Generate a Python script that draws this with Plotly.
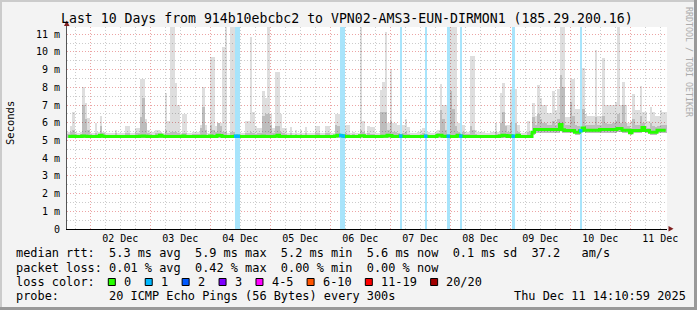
import plotly.graph_objects as go
import pandas as pd

# ---------------- data ----------------
START = "2025-12-01 14:40"
END = "2025-12-11 14:40"

# hourly median rtt (ms), 240 hours
median_rtt = [
    5.23, 5.23, 5.24, 5.23, 5.23, 5.23, 5.25, 5.24, 5.23, 5.23, 5.23, 5.23, 5.23, 5.30, 5.24, 5.23, 5.23, 5.23, 5.23, 5.23,
    5.23, 5.23, 5.23, 5.23, 5.23, 5.23, 5.23, 5.23, 5.23, 5.24, 5.25, 5.24, 5.23, 5.23, 5.23, 5.23, 5.24, 5.30, 5.24, 5.23,
    5.23, 5.23, 5.23, 5.23, 5.23, 5.23, 5.25, 5.23, 5.23, 5.23, 5.23, 5.23, 5.23, 5.23, 5.24, 5.23, 5.23, 5.25, 5.23, 5.23,
    5.30, 5.28, 5.23, 5.23, 5.23, 5.23, 5.23, 5.24, 5.24, 5.23, 5.23, 5.23, 5.23, 5.23, 5.23, 5.23, 5.23, 5.23, 5.24, 5.23,
    5.23, 5.23, 5.23, 5.24, 5.30, 5.23, 5.23, 5.23, 5.23, 5.23, 5.23, 5.23, 5.23, 5.23, 5.23, 5.23, 5.23, 5.23, 5.23, 5.23,
    5.23, 5.23, 5.23, 5.23, 5.23, 5.23, 5.23, 5.25, 5.30, 5.28, 5.25, 5.23, 5.23, 5.23, 5.23, 5.23, 5.23, 5.27, 5.27, 5.23,
    5.23, 5.23, 5.23, 5.23, 5.23, 5.23, 5.24, 5.24, 5.30, 5.28, 5.23, 5.23, 5.23, 5.25, 5.23, 5.23, 5.23, 5.23, 5.23, 5.23,
    5.23, 5.23, 5.23, 5.24, 5.23, 5.23, 5.23, 5.23, 5.30, 5.30, 5.24, 5.23, 5.24, 5.23, 5.23, 5.23, 5.30, 5.25, 5.23, 5.23,
    5.23, 5.23, 5.23, 5.23, 5.23, 5.23, 5.23, 5.23, 5.23, 5.23, 5.23, 5.23, 5.23, 5.25, 5.30, 5.28, 5.23, 5.27, 5.24, 5.23,
    5.30, 5.22, 5.22, 5.22, 5.22, 5.22, 5.46, 5.62, 5.62, 5.62, 5.62, 5.62, 5.62, 5.62, 5.62, 5.62, 5.62, 5.90, 5.60, 5.56,
    5.56, 5.56, 5.56, 5.46, 5.46, 5.55, 5.70, 5.58, 5.58, 5.58, 5.58, 5.58, 5.58, 5.62, 5.62, 5.62, 5.62, 5.62, 5.62, 5.62,
    5.68, 5.68, 5.58, 5.58, 5.58, 5.43, 5.56, 5.56, 5.56, 5.56, 5.74, 5.56, 5.56, 5.47, 5.47, 5.47, 5.58, 5.58, 5.58, 5.58,
]

# hourly slowest ping (top of the smoke, ms)
smoke_max = [
    5.50, 5.80, 6.60, 5.50, 5.40, 5.50, 8.00, 7.10, 6.25, 5.45, 5.45, 6.00, 5.50, 6.40, 5.50, 5.45, 5.40, 5.40, 5.45, 5.60,
    5.45, 5.45, 5.45, 5.80, 5.80, 5.45, 5.45, 5.70, 5.70, 8.50, 8.50, 6.20, 5.60, 5.50, 5.50, 5.60, 5.60, 5.45, 5.45, 7.70,
    6.10, 11.4, 11.4, 8.25, 7.00, 5.45, 6.50, 6.50, 5.45, 5.45, 5.50, 5.50, 5.50, 5.85, 8.00, 5.85, 5.45, 9.70, 9.70, 5.80,
    6.00, 6.00, 10.3, 11.4, 5.45, 11.4, 11.4, 5.45, 5.45, 5.45, 5.45, 6.10, 6.10, 10.85, 6.60, 5.80, 5.70, 5.70, 7.80, 7.40,
    11.4, 6.50, 5.70, 8.85, 8.85, 6.50, 5.70, 5.70, 5.45, 5.75, 5.45, 5.60, 5.45, 5.60, 5.45, 5.75, 5.45, 5.45, 5.45, 5.80,
    5.80, 5.45, 5.45, 5.80, 5.80, 5.45, 5.45, 6.50, 6.50, 6.00, 5.90, 5.90, 5.90, 5.45, 5.50, 5.45, 5.45, 11.4, 6.10, 5.45,
    5.80, 5.75, 5.75, 5.45, 5.45, 7.85, 8.30, 11.1, 6.00, 9.00, 6.00, 6.00, 5.90, 5.90, 5.85, 6.20, 5.75, 5.45, 5.45, 5.45,
    5.50, 5.60, 5.70, 5.70, 5.50, 5.45, 5.45, 5.50, 5.60, 8.20, 7.00, 7.00, 5.60, 11.4, 11.4, 11.4, 6.00, 5.60, 5.90, 5.50,
    5.50, 9.80, 9.80, 5.60, 5.50, 5.50, 5.50, 5.45, 5.45, 5.50, 5.50, 6.00, 5.50, 7.70, 8.25, 5.90, 5.85, 7.90, 5.60, 7.90,
    5.90, 5.40, 5.40, 5.50, 6.10, 5.50, 7.10, 6.40, 8.15, 7.40, 7.00, 7.00, 6.55, 6.55, 7.80, 6.75, 7.90, 11.4, 11.4, 6.30,
    6.30, 8.50, 8.50, 6.80, 6.80, 6.00, 9.10, 6.50, 6.40, 6.40, 6.40, 10.1, 6.40, 6.40, 9.67, 7.00, 7.00, 7.00, 7.00, 7.20,
    11.4, 7.00, 8.30, 7.00, 6.00, 6.10, 7.60, 6.75, 6.75, 8.10, 6.60, 6.60, 6.10, 6.90, 6.60, 6.40, 6.40, 6.75, 6.60, 6.60,
]

# hourly upper edge of the denser (darker) smoke, ms
smoke_mid = [
    5.35, 5.50, 5.60, 5.35, 5.30, 5.35, 7.00, 6.20, 5.60, 5.35, 5.30, 5.40, 5.35, 5.80, 5.40, 5.30, 5.30, 5.30, 5.30, 5.40,
    5.30, 5.30, 5.30, 5.45, 5.45, 5.30, 5.30, 5.40, 5.40, 6.30, 7.40, 6.00, 5.40, 5.35, 5.30, 5.40, 5.45, 5.50, 5.30, 5.60,
    5.45, 5.50, 5.50, 5.50, 5.40, 5.30, 5.40, 5.40, 5.30, 5.30, 5.35, 5.35, 5.35, 5.70, 6.90, 5.60, 5.30, 5.90, 5.60, 5.50,
    6.00, 5.80, 5.50, 5.50, 5.30, 5.50, 5.50, 5.30, 5.30, 5.30, 5.30, 5.40, 5.40, 5.50, 5.40, 5.35, 5.40, 5.40, 6.40, 6.50,
    6.50, 5.90, 5.40, 5.80, 5.80, 5.50, 5.40, 5.35, 5.30, 5.40, 5.30, 5.35, 5.30, 5.35, 5.30, 5.40, 5.30, 5.30, 5.30, 5.40,
    5.40, 5.30, 5.30, 5.40, 5.40, 5.30, 5.30, 5.90, 5.80, 5.50, 5.40, 5.40, 5.35, 5.30, 5.35, 5.30, 5.30, 5.60, 5.50, 5.30,
    5.40, 5.35, 5.35, 5.30, 5.30, 6.60, 6.60, 6.60, 5.60, 6.10, 5.50, 5.50, 5.40, 5.40, 5.40, 5.50, 5.35, 5.30, 5.30, 5.30,
    5.30, 5.35, 5.40, 5.40, 5.30, 5.30, 5.30, 5.35, 5.40, 6.70, 6.20, 5.60, 5.40, 7.80, 6.80, 5.80, 5.50, 5.40, 5.50, 5.35,
    5.35, 5.80, 5.60, 5.35, 5.30, 5.30, 5.30, 5.30, 5.30, 5.30, 5.30, 5.50, 5.35, 6.00, 6.60, 5.80, 5.50, 6.00, 5.40, 6.00,
    5.50, 5.30, 5.30, 5.30, 5.50, 5.40, 6.30, 5.90, 6.50, 6.20, 6.00, 6.00, 5.90, 5.90, 6.10, 5.90, 6.20, 8.70, 8.00, 5.90,
    5.90, 7.20, 6.40, 5.90, 5.80, 5.70, 6.80, 5.90, 5.90, 5.85, 5.85, 6.30, 5.85, 5.90, 6.40, 6.00, 5.95, 5.95, 6.00, 6.10,
    6.50, 6.00, 7.00, 6.00, 5.80, 5.70, 6.20, 5.90, 5.90, 6.40, 6.00, 5.80, 5.70, 6.00, 5.80, 5.75, 5.80, 5.90, 5.85, 5.85,
]

# hourly fastest ping (bottom of the smoke), ms
smoke_min = [
    5.12, 5.12, 5.12, 5.12, 5.12, 5.12, 5.12, 5.12, 5.12, 5.12, 5.12, 5.12, 5.12, 5.12, 5.12, 5.12, 5.12, 5.12, 5.12, 5.12,
    5.12, 5.12, 5.12, 5.12, 5.12, 5.12, 5.12, 5.12, 5.12, 5.12, 5.12, 5.12, 5.12, 5.12, 5.12, 5.12, 5.12, 5.12, 5.12, 5.12,
    5.12, 5.12, 5.12, 5.12, 5.12, 5.12, 5.12, 5.12, 5.12, 5.12, 5.12, 5.12, 5.12, 5.12, 5.12, 5.12, 5.12, 5.12, 5.12, 5.12,
    5.12, 5.12, 5.12, 5.12, 5.12, 5.12, 5.12, 5.12, 5.12, 5.12, 5.12, 5.12, 5.12, 5.12, 5.12, 5.12, 5.12, 5.12, 5.12, 5.12,
    5.12, 5.12, 5.12, 5.12, 5.12, 5.12, 5.12, 5.12, 5.12, 5.12, 5.12, 5.12, 5.12, 5.12, 5.12, 5.12, 5.12, 5.12, 5.12, 5.12,
    5.12, 5.12, 5.12, 5.12, 5.12, 5.12, 5.12, 5.12, 5.12, 5.12, 5.12, 5.12, 5.12, 5.12, 5.12, 5.12, 5.12, 5.12, 5.12, 5.12,
    5.12, 5.12, 5.12, 5.12, 5.12, 5.12, 5.12, 5.12, 5.12, 5.12, 5.12, 5.12, 5.12, 5.12, 5.12, 5.12, 5.12, 5.12, 5.12, 5.12,
    5.12, 5.12, 5.12, 5.12, 5.12, 5.12, 5.12, 5.12, 5.12, 5.12, 5.12, 5.12, 5.12, 5.12, 5.12, 5.12, 5.12, 5.12, 5.12, 5.12,
    5.12, 5.12, 5.12, 5.12, 5.12, 5.12, 5.12, 5.12, 5.12, 5.12, 5.12, 5.12, 5.12, 5.12, 5.12, 5.12, 5.12, 5.12, 5.12, 5.12,
    5.12, 5.12, 5.12, 5.12, 5.12, 5.12, 5.32, 5.45, 5.45, 5.45, 5.45, 5.45, 5.45, 5.45, 5.45, 5.45, 5.45, 5.60, 5.45, 5.40,
    5.40, 5.40, 5.40, 5.32, 5.32, 5.40, 5.50, 5.42, 5.42, 5.42, 5.42, 5.42, 5.42, 5.45, 5.45, 5.45, 5.45, 5.45, 5.45, 5.45,
    5.50, 5.50, 5.42, 5.42, 5.42, 5.30, 5.40, 5.40, 5.40, 5.40, 5.55, 5.40, 5.40, 5.32, 5.32, 5.32, 5.42, 5.42, 5.42, 5.42,
]

# hours (from start) in which pings were lost, and how many of 20
loss_hours = [67, 68, 109, 110, 133, 143, 152, 157, 178, 205]
loss_count = [1, 1, 1, 1, 1, 1, 1, 1, 1, 1]

y_tick_values = [0, 1, 2, 3, 4, 5, 6, 7, 8, 9, 10, 11]
y_tick_labels = ["0", "1 m", "2 m", "3 m", "4 m", "5 m", "6 m", "7 m", "8 m", "9 m", "10 m", "11 m"]

title_text = "Last 10 Days from 914b10ebcbc2 to VPN02-AMS3-EUN-DIRMON1 (185.29.200.16)"
legend_lines = [
    "median rtt:  5.3 ms avg  5.9 ms max  5.2 ms min  5.6 ms now  0.1 ms sd  37.2   am/s",
    "packet loss: 0.01 % avg  0.42 % max  0.00 % min  0.00 % now",
    "loss color:",
    "probe:       20 ICMP Echo Pings (56 Bytes) every 300s",
]
stamp_text = "Thu Dec 11 14:10:59 2025"
loss_color_labels = ["0", "1", "2", "3", "4-5", "6-10", "11-19", "20/20"]
loss_colors = ["#26ff00", "#00b8ff", "#0059ff", "#7e00ff", "#ff00ff", "#ff5500", "#ff0000", "#a10000"]

# ---------------- figure ----------------
Y_TOP = 11.41
MONO = "DejaVu Sans Mono"
HOUR_MS = 3600000

times = pd.date_range(START, periods=len(median_rtt), freq="h") + pd.Timedelta(minutes=30)
loss_times = [times[h] for h in loss_hours]
loss_median = [median_rtt[h] for h in loss_hours]

fig = go.Figure()

# light smoke (full spread)
fig.add_trace(go.Bar(
    x=times, base=smoke_min, y=[a - b for a, b in zip(smoke_max, smoke_min)],
    width=HOUR_MS, marker=dict(color="rgba(0,0,0,0.13)", line=dict(width=0)),
    hoverinfo="skip"))
# denser smoke
fig.add_trace(go.Bar(
    x=times, base=smoke_min, y=[a - b for a, b in zip(smoke_mid, smoke_min)],
    width=HOUR_MS, marker=dict(color="rgba(0,0,0,0.15)", line=dict(width=0)),
    hoverinfo="skip"))
# loss background bands
fig.add_trace(go.Bar(
    x=loss_times, base=[0] * len(loss_times), y=[Y_TOP] * len(loss_times),
    width=HOUR_MS, marker=dict(color="#a8e4fb", line=dict(width=0)),
    hoverinfo="skip"))
# median line, loss colour 0
fig.add_trace(go.Scatter(
    x=times, y=median_rtt, mode="lines",
    line=dict(color="#26ff00", width=3, shape="hvh"), hoverinfo="skip"))
# median where loss occurred
fig.add_trace(go.Scatter(
    x=loss_times, y=loss_median, mode="markers",
    marker=dict(symbol="square", size=3.5, color=[loss_colors[c] for c in loss_count],
                line=dict(width=0)),
    hoverinfo="skip"))


def px(xp):
    return (xp - 67) / 600.0


def py(yp):
    return (229 - yp) / 202.0


def nb(s):
    return s.replace(" ", "\u00a0")


annotations = [
    dict(text=nb(title_text), x=px(347), y=py(19), xanchor="center", yanchor="middle",
         font=dict(family=MONO, size=13.2, color="#000")),
    dict(text="Seconds", x=px(10), y=py(123), xanchor="center", yanchor="middle",
         textangle=-90, font=dict(family=MONO, size=10.5, color="#000")),
    dict(text=nb("RRDTOOL / TOBI OETIKER"), x=px(689), y=py(5), xanchor="center", yanchor="top",
         textangle=90, font=dict(family=MONO, size=8.3, color="#ababab")),
    dict(text=nb(stamp_text), x=px(512), y=py(296), xanchor="left", yanchor="middle",
         font=dict(family=MONO, size=11.9, color="#000")),
]
for k, line in enumerate(legend_lines):
    annotations.append(dict(text=nb(line), x=px(14), y=py(253.5 + 14 * k), xanchor="left",
                            yanchor="middle", font=dict(family=MONO, size=11.9, color="#000")))

shapes = []
bx = 108.3
for lab, col in zip(loss_color_labels, loss_colors):
    shapes.append(dict(type="rect", xref="paper", yref="paper",
                       x0=px(bx), x1=px(bx + 7), y0=py(285.5), y1=py(278.5),
                       fillcolor=col, line=dict(color="#000", width=1), layer="above"))
    annotations.append(dict(text=nb(lab), x=px(bx + 13.8), y=py(281.5), xanchor="left",
                            yanchor="middle", font=dict(family=MONO, size=11.9, color="#000")))
    bx += (len(lab) + 4.2) * 7.1

for a in annotations:
    a.setdefault("showarrow", False)
    a["xref"] = "paper"
    a["yref"] = "paper"

# frame shading
shapes += [
    dict(type="rect", xref="paper", yref="paper", x0=px(0), x1=px(697), y0=py(2), y1=py(0),
         fillcolor="#cbcbcb", line=dict(width=0)),
    dict(type="rect", xref="paper", yref="paper", x0=px(0), x1=px(2), y0=py(310), y1=py(0),
         fillcolor="#cbcbcb", line=dict(width=0)),
    dict(type="rect", xref="paper", yref="paper", x0=px(0), x1=px(697), y0=py(310), y1=py(307),
         fillcolor="#999999", line=dict(width=0)),
    dict(type="rect", xref="paper", yref="paper", x0=px(694), x1=px(697), y0=py(310), y1=py(0),
         fillcolor="#999999", line=dict(width=0)),
]
# axis arrows
shapes += [
    dict(type="path", xref="paper", yref="paper", xsizemode="pixel", ysizemode="pixel",
         xanchor=0, yanchor=1, path="M -0.5,0 L -0.5,3 Z", line=dict(color="#555", width=1)),
    dict(type="path", xref="paper", yref="paper", xsizemode="pixel", ysizemode="pixel",
         xanchor=0, yanchor=1, path="M -3,1 L 2.5,1 L -0.25,6.5 Z",
         fillcolor="#7f1f1f", line=dict(width=0)),
    dict(type="path", xref="paper", yref="paper", xsizemode="pixel", ysizemode="pixel",
         xanchor=1, yanchor=0, path="M 1.5,-2.5 L 1.5,3 L 6.5,0.25 Z",
         fillcolor="#7f1f1f", line=dict(width=0)),
]

fig.update_layout(
    width=697, height=310,
    margin=dict(l=67, r=30, t=27, b=81, pad=0),
    paper_bgcolor="#f3f3f3", plot_bgcolor="#ffffff",
    showlegend=False, barmode="overlay", bargap=0,
    font=dict(family=MONO, size=10, color="#000"),
    annotations=annotations, shapes=shapes,
)
fig.update_xaxes(
    type="date", range=[START, END], tick0="2025-12-02", dtick=86400000,
    tickformat="%d %b", ticklabelmode="period", ticks="",
    showgrid=True, gridcolor="#eca4a4", griddash="1px,2px", gridwidth=1,
    minor=dict(dtick=21600000, tick0="2025-12-02", showgrid=True,
               gridcolor="#cccccc", griddash="1px,2px", gridwidth=1),
    showline=True, linecolor="#000", linewidth=1, zeroline=False,
    tickfont=dict(family=MONO, size=10, color="#000"),
)
fig.update_yaxes(
    range=[0, Y_TOP], tickvals=y_tick_values, ticktext=y_tick_labels, ticks="",
    showgrid=True, gridcolor="#eca4a4", griddash="1px,2px", gridwidth=1,
    minor=dict(dtick=0.5, tick0=0, showgrid=True, gridcolor="#cccccc",
               griddash="1px,2px", gridwidth=1),
    showline=True, linecolor="#555", linewidth=1, zeroline=False,
    ticklabelstandoff=4,
    tickfont=dict(family=MONO, size=10, color="#000"),
)

fig.write_html("out.html")
